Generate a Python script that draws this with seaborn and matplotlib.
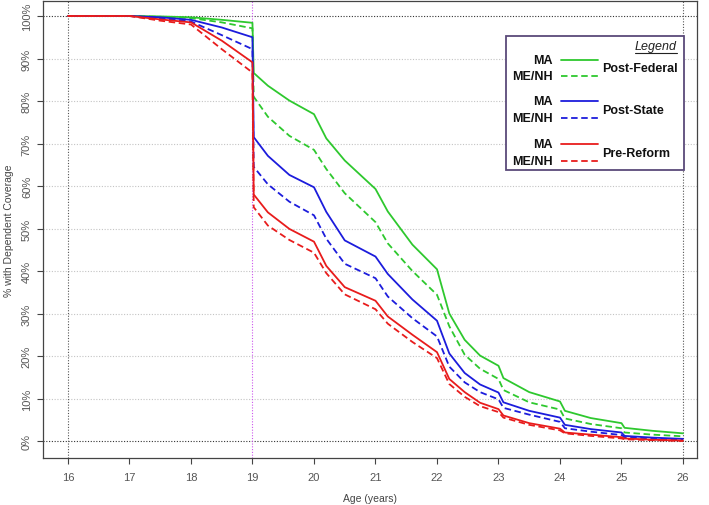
import matplotlib
matplotlib.use("Agg")
import matplotlib.pyplot as plt
import seaborn as sns
import pandas as pd
from matplotlib.lines import Line2D
from matplotlib.patches import Rectangle

# ---- data ----
ages = [16, 17, 17.5, 18, 18.5, 18.999, 19.02, 19.25, 19.6, 20.0, 20.2, 20.5, 21.0, 21.2,
        21.6, 22.0, 22.2, 22.45, 22.7, 23.0, 23.08, 23.5, 24.0, 24.08, 24.5, 25.0, 25.05,
        25.5, 26.0]

ma_post_federal = [100, 100, 99.9, 99.7, 99.1, 98.4, 86.6, 83.6, 80.1, 76.9, 71.2, 66.0, 59.3, 54.0,
                   46.2, 40.4, 30.0, 23.8, 20.1, 17.7, 14.8, 11.5, 9.3, 7.1, 5.4, 4.2, 3.1, 2.4, 1.8]
menh_post_federal = [100, 100, 99.8, 99.5, 98.5, 97.1, 81.0, 76.3, 71.8, 68.5, 64.0, 58.3, 51.5, 46.5,
                     40.0, 34.4, 27.0, 20.3, 17.0, 14.6, 12.0, 9.1, 7.4, 5.3, 4.0, 3.0, 2.0, 1.5, 1.1]
ma_post_state = [100, 100, 99.7, 99.1, 97.3, 95.0, 71.5, 67.1, 62.6, 59.7, 53.9, 47.2, 43.4, 39.3,
                 33.3, 28.3, 20.6, 16.0, 13.3, 11.4, 9.1, 7.1, 5.5, 3.8, 2.8, 2.0, 1.2, 0.8, 0.5]
menh_post_state = [100, 100, 99.5, 98.7, 95.5, 92.2, 64.5, 60.4, 56.3, 53.1, 47.6, 41.7, 38.3, 34.0,
                   28.9, 24.6, 17.5, 13.8, 11.5, 9.8, 7.8, 6.2, 4.5, 3.0, 2.2, 1.4, 0.9, 0.6, 0.3]
ma_pre_reform = [100, 100, 99.2, 98.5, 94.2, 89.1, 58.0, 53.8, 49.9, 46.9, 41.2, 36.2, 33.0, 29.3,
                 25.0, 20.9, 14.6, 11.5, 9.0, 7.5, 6.0, 4.2, 2.9, 2.0, 1.5, 0.9, 0.6, 0.3, 0.1]
menh_pre_reform = [100, 100, 98.9, 98.0, 92.2, 86.7, 55.0, 50.7, 47.3, 44.3, 39.5, 34.5, 31.0, 27.6,
                   23.3, 19.5, 13.4, 10.4, 8.2, 6.8, 5.5, 3.8, 2.5, 1.8, 1.2, 0.6, 0.4, 0.2, 0.0]

periods = ["Post-Federal", "Post-State", "Pre-Reform"]
states = ["MA", "ME/NH"]
x_ticks = list(range(16, 27))
y_ticks = list(range(0, 101, 10))
y_tick_labels = [f"{v}%" for v in y_ticks]

series = {
    ("Post-Federal", "MA"): ma_post_federal,
    ("Post-Federal", "ME/NH"): menh_post_federal,
    ("Post-State", "MA"): ma_post_state,
    ("Post-State", "ME/NH"): menh_post_state,
    ("Pre-Reform", "MA"): ma_pre_reform,
    ("Pre-Reform", "ME/NH"): menh_pre_reform,
}
rows = []
for (p, s), vals in series.items():
    for a, v in zip(ages, vals):
        rows.append({"age": a, "pct": v, "period": p, "state": s})
df = pd.DataFrame(rows)

colors = {"Post-Federal": "#2ec82e", "Post-State": "#1c1cdc", "Pre-Reform": "#e81c1c"}
dash_map = {"MA": "", "ME/NH": (3.6, 2.0)}

# ---- figure ----
sns.set_theme(style="white")
plt.rcParams["font.family"] = ["Liberation Sans", "DejaVu Sans"]

W, H = 709, 506
fig = plt.figure(figsize=(W / 100, H / 100), dpi=100)
L, R, T, B = 43, 697, 2, 459
ax = fig.add_axes([L / W, 1 - B / H, (R - L) / W, (B - T) / H])

x0 = 16 - 25 / 61.5
x1 = 26 + 14 / 61.5
ax.set_xlim(x0, x1)
ax.set_ylim(-4, 100 + 15 / 4.25)

# grid
for v in y_ticks[1:-1]:
    ax.axhline(v, color="#c4c4c4", lw=0.8, ls=(0, (1, 1.5)), zorder=1)
for v in (0, 100):
    ax.axhline(v, color="#333333", lw=0.8, ls=(0, (1, 1.5)), zorder=1)
for v in (16, 26):
    ax.axvline(v, color="#555555", lw=0.8, ls=(0, (1, 1.5)), zorder=1)
ax.axvline(19, color="#cc55ee", lw=0.8, ls=(0, (1, 1.5)), zorder=1)

sns.lineplot(data=df, x="age", y="pct", hue="period", style="state",
             palette=colors, dashes=dash_map, hue_order=periods, style_order=states,
             linewidth=1.3, ax=ax, legend=False, estimator=None, sort=False, zorder=3)

ax.set_xticks(x_ticks)
ax.set_xticklabels([str(t) for t in x_ticks])
ax.set_yticks(y_ticks)
ax.set_yticklabels(y_tick_labels, rotation=90, va="center")
ax.tick_params(axis="both", colors="#444444", labelcolor="#555555", labelsize=8,
               length=4, width=0.8, direction="out", bottom=True, left=True)
ax.tick_params(axis="x", pad=6)
ax.tick_params(axis="y", pad=4)
ax.set_xlabel("Age (years)", fontsize=7.5, color="#444444", labelpad=8)
ax.set_ylabel("% with Dependent Coverage", fontsize=7.5, color="#444444", labelpad=6)
for sp in ax.spines.values():
    sp.set_visible(True)
    sp.set_color("#444444")
    sp.set_linewidth(0.9)

# ---- custom legend (figure pixel coords) ----
def fx(px):
    return px / W

def fy(py):
    return 1 - py / H

fig.patches.append(Rectangle((fx(506), fy(171)), fx(684) - fx(506), fy(37) - fy(171),
                             transform=fig.transFigure, facecolor="white",
                             edgecolor="#5a4a7a", lw=1.3, zorder=5))
fig.text(fx(677), fy(47), "Legend", ha="right", va="center", fontsize=9,
         style="italic", color="#222222", zorder=6)
fig.add_artist(Line2D([fx(635), fx(677)], [fy(53.5), fy(53.5)], color="#222222", lw=0.8,
                      transform=fig.transFigure, zorder=6))
groups = [(60.7, 76.7, 69.3), (101.7, 119.3, 111), (145, 161.7, 154)]
for (ya, yb, yg), p in zip(groups, periods):
    for yy, st in ((ya, "MA"), (yb, "ME/NH")):
        fig.text(fx(553), fy(yy), st, ha="right", va="center", fontsize=9,
                 fontweight="bold", color="#111111", zorder=6)
        ls = "-" if st == "MA" else (0, dash_map["ME/NH"])
        fig.add_artist(Line2D([fx(561), fx(598)], [fy(yy), fy(yy)], color=colors[p],
                              lw=1.3, ls=ls, transform=fig.transFigure, zorder=6))
    fig.text(fx(602), fy(yg), p, ha="left", va="center", fontsize=9,
             fontweight="bold", color="#111111", zorder=6)

fig.savefig("out.png", dpi=100)
